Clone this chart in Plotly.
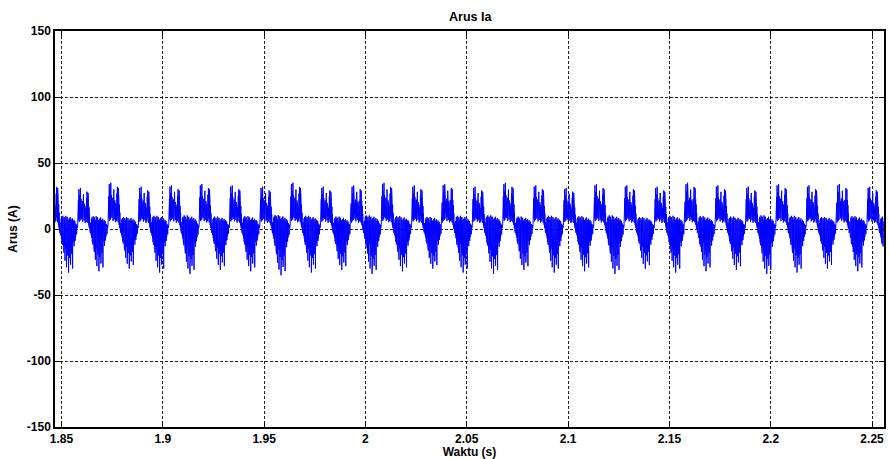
import numpy as np
import plotly.graph_objects as go

# Phase current of the motor, one electrical cycle sampled at 120 points.
# Positive conduction interval (48 samples): ripple band with switching spikes.
pos_shape = [3, 20, 5, 24, 8, 33, 6, 28, 10, 22, 7, 34,
             9, 25, 12, 21, 8, 19, 11, 23, 6, 20, 9, 29,
             12, 18, 7, 21, 10, 19, 5, 17, 9, 22, 6, 26,
             10, 31, 8, 24, 5, 30, 7, 22, 3, 18, 1, 12]
# Remaining interval (72 samples): noise around zero with negative spikes.
neg_shape = [0, 4, -3, 5, -2, 6, -5, 8, -7, 9, -10, 7,
             -12, 10, -9, 8, -14, 6, -18, 9, -13, 7, -24, 5,
             -15, 10, -11, 8, -29, 6, -16, 9, -20, 4, -13, 7,
             -33, 5, -17, 8, -22, 6, -14, 9, -27, 4, -16, 7,
             -19, 5, -12, 8, -30, 6, -15, 4, -10, 7, -13, 5,
             -8, 6, -9, 3, -6, 4, -5, 2, -4, 3, -2, 1]

# Peak of the positive spikes and of the negative spikes in each cycle (A)
pos_peaks = [35, 31, 35, 32, 33, 34, 33, 32, 35, 32, 33, 35, 33, 34,
             32, 35, 33, 31, 34, 33, 32, 35, 33, 32, 34, 33, 34, 32]
neg_peaks = [-33, -32, -30, -33, -34, -31, -32, -35, -33, -31, -34, -32, -30, -33,
             -34, -31, -33, -32, -34, -30, -33, -32, -31, -34, -33, -30, -32, -31]

cycle_start = 1.8430   # s, beginning of the first positive interval
period = 0.01498       # s, electrical period
t_end = 2.2556         # s, last sample

x_ticks = [1.85, 1.9, 1.95, 2.0, 2.05, 2.1, 2.15, 2.2, 2.25]
x_labels = ["1.85", "1.9", "1.95", "2", "2.05", "2.1", "2.15", "2.2", "2.25"]
y_ticks = [150, 100, 50, 0, -50, -100, -150]
y_labels = ["150", "100", "50", "0", "-50", "-100", "-150"]

# Assemble the sampled waveform cycle by cycle
n_per = len(pos_shape) + len(neg_shape)
times, current = [], []
for k, (pp, nn) in enumerate(zip(pos_peaks, neg_peaks)):
    cyc = [v * pp / 34.0 for v in pos_shape] + [v * nn / -33.0 for v in neg_shape]
    for i, v in enumerate(cyc):
        times.append(cycle_start + k * period + i * period / n_per)
        current.append(v)
times = np.array(times)
current = np.array(current)
keep = times <= t_end
times, current = times[keep], current[keep]

font_family = "Liberation Sans, Arial, sans-serif"
bold = dict(family=font_family, size=12, color="black", weight="bold")

fig = go.Figure(
    go.Scatter(x=times, y=current, mode="lines",
               line=dict(color="#0000ff", width=1), showlegend=False)
)

axis_common = dict(
    showline=True, linecolor="black", linewidth=1.5, mirror="ticks",
    ticks="inside", ticklen=5, tickcolor="black", tickwidth=1,
    showgrid=True, gridcolor="#222222", gridwidth=1, griddash="3px,2px",
    zeroline=False, tickfont=bold,
)

fig.update_layout(
    width=889, height=459,
    margin=dict(l=55, r=3, t=31, b=32),
    paper_bgcolor="white", plot_bgcolor="white",
    title=dict(text="Arus Ia", x=0.529, xanchor="center",
               y=1 - 17 / 459, yref="container", yanchor="middle",
               font=dict(family=font_family, size=12.5, color="black", weight="bold")),
    xaxis=dict(range=[1.8468, 2.2559], tickvals=x_ticks, ticktext=x_labels,
               title=dict(text="Waktu (s)", font=bold, standoff=0),
               **axis_common),
    yaxis=dict(range=[-150, 150], tickvals=y_ticks, ticktext=y_labels,
               title=dict(text="Arus (A)", font=bold, standoff=7),
               **axis_common),
)

fig.write_html("out.html")
